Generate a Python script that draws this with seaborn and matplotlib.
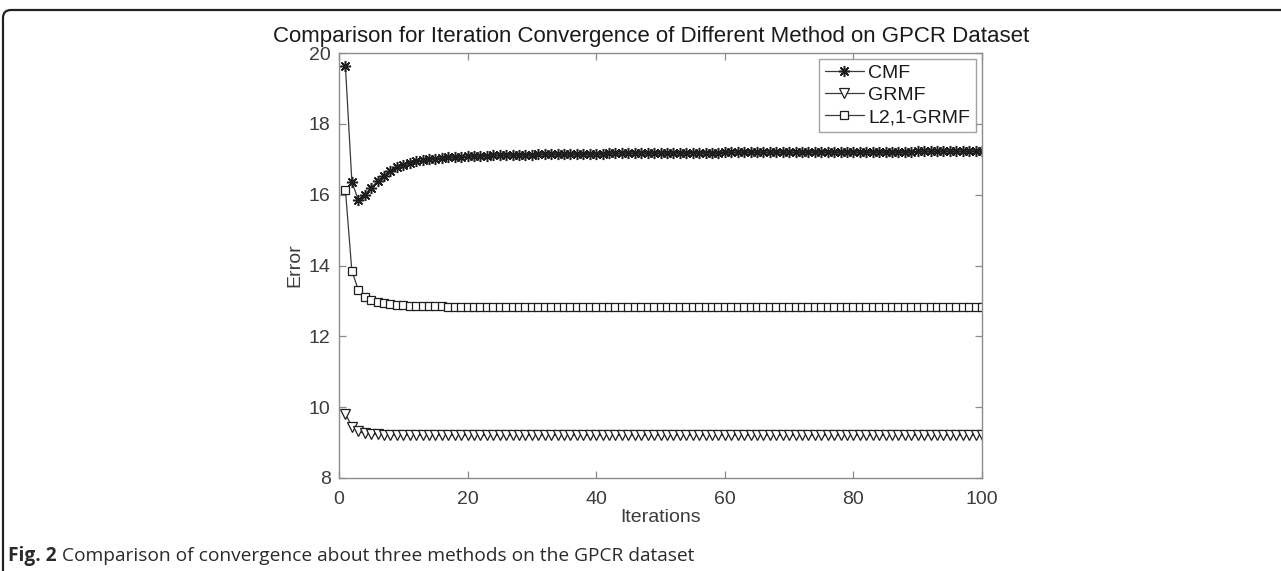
import matplotlib
matplotlib.use("Agg")
import matplotlib.pyplot as plt
from matplotlib.patches import FancyBboxPatch
import seaborn as sns

# ---- data -----------------------------------------------------------------
iterations = list(range(1, 101))

cmf = [19.62, 16.37, 15.85, 16.00, 16.20, 16.38, 16.54, 16.67, 16.77, 16.85,
       16.90, 16.94, 16.97, 17.00, 17.02, 17.04, 17.05, 17.06, 17.07, 17.08,
       17.09, 17.10, 17.10, 17.11, 17.11, 17.12, 17.12, 17.13, 17.13, 17.13,
       17.14, 17.14, 17.14, 17.15, 17.15, 17.15, 17.15, 17.16, 17.16, 17.16,
       17.16, 17.17, 17.17, 17.17, 17.17, 17.17, 17.18, 17.18, 17.18, 17.18,
       17.18, 17.18, 17.19, 17.19, 17.19, 17.19, 17.19, 17.19, 17.19, 17.20,
       17.20, 17.20, 17.20, 17.20, 17.20, 17.20, 17.20, 17.20, 17.20, 17.20,
       17.20, 17.20, 17.21, 17.21, 17.21, 17.21, 17.21, 17.21, 17.21, 17.21,
       17.21, 17.21, 17.21, 17.21, 17.21, 17.21, 17.21, 17.21, 17.21, 17.22,
       17.22, 17.22, 17.22, 17.22, 17.22, 17.22, 17.22, 17.22, 17.22, 17.22]

grmf = [9.82, 9.45, 9.32, 9.26, 9.24, 9.23, 9.22, 9.22, 9.22, 9.21,
        9.21, 9.21, 9.21, 9.21, 9.21, 9.21, 9.21, 9.21, 9.21, 9.21,
        9.21, 9.21, 9.21, 9.21, 9.21, 9.21, 9.21, 9.21, 9.21, 9.21,
        9.21, 9.21, 9.21, 9.21, 9.21, 9.21, 9.21, 9.21, 9.21, 9.21,
        9.21, 9.21, 9.21, 9.21, 9.21, 9.21, 9.21, 9.21, 9.21, 9.21,
        9.21, 9.21, 9.21, 9.21, 9.21, 9.21, 9.21, 9.21, 9.21, 9.21,
        9.21, 9.21, 9.21, 9.21, 9.21, 9.21, 9.21, 9.21, 9.21, 9.21,
        9.21, 9.21, 9.21, 9.21, 9.21, 9.21, 9.21, 9.21, 9.21, 9.21,
        9.21, 9.21, 9.21, 9.21, 9.21, 9.21, 9.21, 9.21, 9.21, 9.21,
        9.21, 9.21, 9.21, 9.21, 9.21, 9.21, 9.21, 9.21, 9.21, 9.21]

l21_grmf = [16.13, 13.84, 13.32, 13.12, 13.02, 12.96, 12.93, 12.91, 12.89, 12.88,
            12.87, 12.86, 12.86, 12.85, 12.85, 12.85, 12.84, 12.84, 12.84, 12.84,
            12.84, 12.84, 12.84, 12.84, 12.84, 12.84, 12.84, 12.84, 12.84, 12.84,
            12.84, 12.84, 12.84, 12.84, 12.84, 12.84, 12.84, 12.84, 12.84, 12.84,
            12.84, 12.84, 12.84, 12.84, 12.84, 12.84, 12.84, 12.84, 12.84, 12.84,
            12.84, 12.84, 12.84, 12.84, 12.84, 12.84, 12.84, 12.84, 12.84, 12.84,
            12.84, 12.84, 12.84, 12.84, 12.84, 12.84, 12.84, 12.84, 12.84, 12.84,
            12.84, 12.84, 12.84, 12.84, 12.84, 12.84, 12.84, 12.84, 12.84, 12.84,
            12.84, 12.84, 12.84, 12.84, 12.84, 12.84, 12.84, 12.84, 12.84, 12.84,
            12.84, 12.84, 12.84, 12.84, 12.84, 12.84, 12.84, 12.84, 12.84, 12.84]

method_names = ["CMF", "GRMF", "L2,1-GRMF"]
x_ticks = [0, 20, 40, 60, 80, 100]
y_ticks = [8, 10, 12, 14, 16, 18, 20]

title = "Comparison for Iteration Convergence of Different Method on GPCR Dataset"
caption_bold = "Fig. 2"
caption_text = " Comparison of convergence about three methods on the GPCR dataset"

# ---- style ----------------------------------------------------------------
sns.set_theme(style="white")
plt.rcParams["font.family"] = ["Liberation Sans", "DejaVu Sans"]

W, H, DPI = 1281, 571, 100
fig = plt.figure(figsize=(W / DPI, H / DPI), dpi=DPI)
fig.patch.set_facecolor("white")

# axes box in pixel terms
left, right, top, bottom = 339, 982, 53, 478
ax = fig.add_axes([left / W, 1 - bottom / H, (right - left) / W, (bottom - top) / H])
ax.set_facecolor("white")

axis_gray = "#8c8c8c"
label_gray = "#3c3c3c"
line_col = "#3a3a3a"

series = [cmf, grmf, l21_grmf]
markers = [(8, 2, 0), "v", "s"]
msizes = [8.0, 7.0, 6.2]
medge = [1.1, 0.9, 0.9]
for name, vals, mk, ms, mew in zip(method_names, series, markers, msizes, medge):
    sns.lineplot(x=iterations, y=vals, ax=ax, label=name,
                 color=line_col, linewidth=0.9,
                 marker=mk, markersize=ms, markerfacecolor="white",
                 markeredgecolor="#1e1e1e", markeredgewidth=mew)

ax.set_xlim(0, 100)
ax.set_ylim(8, 20)
ax.set_xticks(x_ticks)
ax.set_yticks(y_ticks)

for s in ax.spines.values():
    s.set_visible(True)
    s.set_color(axis_gray)
    s.set_linewidth(1.0)

ax.tick_params(axis="both", which="both", direction="in", length=5, width=0.9,
               color=axis_gray, labelcolor=label_gray, labelsize=14,
               top=True, right=True, bottom=True, left=True)
ax.tick_params(axis="x", pad=9)
ax.tick_params(axis="y", pad=6)

ax.set_xlabel("Iterations", fontsize=14, color=label_gray, labelpad=1)
ax.set_ylabel("Error", fontsize=14, color=label_gray, labelpad=4)
ax.set_title(title, fontsize=16, color="#1a1a1a", pad=8, x=0.486)

leg = ax.legend(loc="upper right", fontsize=14, frameon=True, fancybox=False,
                handlelength=2.0, handletextpad=0.25, borderpad=0.3,
                labelspacing=0.22, borderaxespad=0.3)
leg.get_frame().set_edgecolor(axis_gray)
leg.get_frame().set_linewidth(1.0)
for t in leg.get_texts():
    t.set_color("#1a1a1a")

# page frame around the figure
frame = FancyBboxPatch((0.03, -0.3), 13.5, 5.61 + 0.3,
                       boxstyle="round,pad=0,rounding_size=0.08",
                       transform=fig.dpi_scale_trans, facecolor="none",
                       edgecolor="#222222", linewidth=1.6, clip_on=False)
fig.patches.append(frame)

# caption: bold figure number followed by the description
cap_font = ["Open Sans", "DejaVu Sans"]
cap1 = fig.text(8 / W, 1 - 556 / H, caption_bold, fontsize=13.8, fontweight="bold",
                color="#2a2a2a", va="center", ha="left", family=cap_font)
ax.annotate(caption_text, xy=(1, 0.5), xycoords=cap1, va="center", ha="left",
            fontsize=13.8, color="#2a2a2a", family=cap_font,
            annotation_clip=False)

fig.savefig("out.png", dpi=DPI, facecolor="white")
